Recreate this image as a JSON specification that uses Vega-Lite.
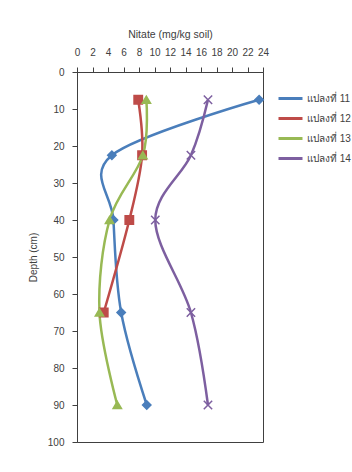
{
  "$schema": "https://vega.github.io/schema/vega-lite/v6.json",
  "width": 186,
  "height": 370,
  "autosize": {"type": "none"},
  "padding": {"left": 77, "top": 72, "right": 89, "bottom": 30},
  "background": "white",
  "config": {
    "view": {"stroke": "#404040", "strokeWidth": 1},
    "font": "Liberation Sans"
  },
  "data": {
    "values": [
      {"plot": "แปลงที่ 11", "depth": 7.5, "nitrate": 23.5},
      {"plot": "แปลงที่ 11", "depth": 22.5, "nitrate": 4.5},
      {"plot": "แปลงที่ 11", "depth": 40, "nitrate": 4.7},
      {"plot": "แปลงที่ 11", "depth": 65, "nitrate": 5.7},
      {"plot": "แปลงที่ 11", "depth": 90, "nitrate": 9.0},
      {"plot": "แปลงที่ 12", "depth": 7.5, "nitrate": 7.9},
      {"plot": "แปลงที่ 12", "depth": 22.5, "nitrate": 8.4},
      {"plot": "แปลงที่ 12", "depth": 40, "nitrate": 6.75},
      {"plot": "แปลงที่ 12", "depth": 65, "nitrate": 3.45},
      {"plot": "แปลงที่ 13", "depth": 7.5, "nitrate": 8.95},
      {"plot": "แปลงที่ 13", "depth": 22.5, "nitrate": 8.5},
      {"plot": "แปลงที่ 13", "depth": 40, "nitrate": 4.2},
      {"plot": "แปลงที่ 13", "depth": 65, "nitrate": 2.9},
      {"plot": "แปลงที่ 13", "depth": 90, "nitrate": 5.2},
      {"plot": "แปลงที่ 14", "depth": 7.5, "nitrate": 16.9},
      {"plot": "แปลงที่ 14", "depth": 22.5, "nitrate": 14.7},
      {"plot": "แปลงที่ 14", "depth": 40, "nitrate": 10.1},
      {"plot": "แปลงที่ 14", "depth": 65, "nitrate": 14.7},
      {"plot": "แปลงที่ 14", "depth": 90, "nitrate": 16.9}
    ]
  },
  "encoding": {
    "x": {
      "field": "nitrate",
      "type": "quantitative",
      "scale": {"domain": [0, 24], "nice": false, "zero": false},
      "axis": {
        "orient": "top",
        "title": "Nitate (mg/kg soil)",
        "values": [0, 2, 4, 6, 8, 10, 12, 14, 16, 18, 20, 22, 24],
        "labelOverlap": false,
        "labelBound": false,
        "labelFlush": false,
        "grid": false,
        "tickSize": 5,
        "labelPadding": 10,
        "titlePadding": 8,
        "labelFontSize": 10,
        "titleFontSize": 10.5,
        "titleFontWeight": "normal",
        "labelColor": "#404040",
        "titleColor": "#404040",
        "domainColor": "#404040",
        "tickColor": "#404040"
      }
    },
    "y": {
      "field": "depth",
      "type": "quantitative",
      "scale": {"domain": [0, 100], "reverse": true, "nice": false},
      "axis": {
        "title": "Depth (cm)",
        "values": [0, 10, 20, 30, 40, 50, 60, 70, 80, 90, 100],
        "labelOverlap": false,
        "labelFlush": false,
        "grid": false,
        "tickSize": 5,
        "labelPadding": 8,
        "titlePadding": 9,
        "labelFontSize": 10,
        "titleFontSize": 10,
        "titleFontWeight": "normal",
        "labelColor": "#404040",
        "titleColor": "#404040",
        "domainColor": "#404040",
        "tickColor": "#404040"
      }
    }
  },
  "resolve": {"legend": {"color": "independent", "fill": "independent", "stroke": "independent", "shape": "independent"}},
  "layer": [
    {
      "mark": {"type": "line", "interpolate": "cardinal", "tension": 0, "strokeWidth": 2.5},
      "encoding": {
        "color": {
          "field": "plot",
          "type": "nominal",
          "scale": {
            "domain": ["แปลงที่ 11", "แปลงที่ 12", "แปลงที่ 13", "แปลงที่ 14"],
            "range": ["#4A7EBB", "#BE4B48", "#98B954", "#7D5FA0"]
          },
          "legend": {
            "title": null,
            "orient": "none",
            "legendX": 200,
            "legendY": 13,
            "symbolType": "stroke",
            "symbolSize": 576,
            "symbolStrokeWidth": 3,
            "rowPadding": 0,
            "labelOffset": 3,
            "labelFontSize": 10,
            "labelColor": "#404040"
          }
        },
        "order": {"field": "depth"}
      }
    },
    {
      "mark": {"type": "point", "filled": true, "opacity": 1, "strokeWidth": 1.5, "size": 70},
      "encoding": {
        "fill": {
          "field": "plot",
          "type": "nominal",
          "scale": {
            "domain": ["แปลงที่ 11", "แปลงที่ 12", "แปลงที่ 13", "แปลงที่ 14"],
            "range": ["#4A7EBB", "#BE4B48", "#98B954", "#7D5FA0"]
          },
          "legend": null
        },
        "stroke": {
          "field": "plot",
          "type": "nominal",
          "scale": {
            "domain": ["แปลงที่ 11", "แปลงที่ 12", "แปลงที่ 13", "แปลงที่ 14"],
            "range": ["#4A7EBB", "#BE4B48", "#98B954", "#7D5FA0"]
          },
          "legend": null
        },
        "shape": {
          "field": "plot",
          "type": "nominal",
          "scale": {
            "domain": ["แปลงที่ 11", "แปลงที่ 12", "แปลงที่ 13", "แปลงที่ 14"],
            "range": ["diamond", "square", "triangle-up", "M-1,-1L1,1M-1,1L1,-1"]
          },
          "legend": null
        }
      }
    }
  ]
}
